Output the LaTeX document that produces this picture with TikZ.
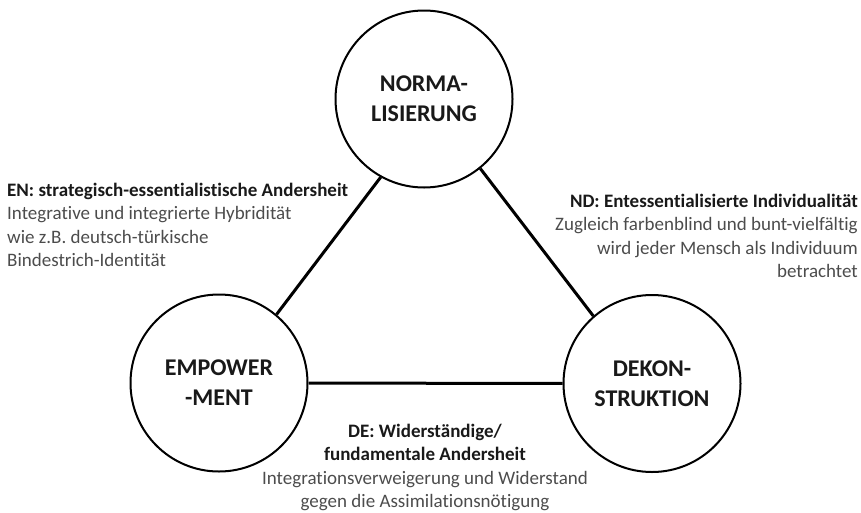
\documentclass[tikz,border=0pt]{standalone}
\usepackage{fontspec}
\setmainfont{Carlito}[Ligatures=NoCommon]
\begin{document}
\begin{tikzpicture}[x=1pt,y=-1pt,
  circ/.style={circle,draw=black,line width=2pt,minimum size=177pt,inner sep=0pt,
    align=center,font=\fontsize{24}{30}\selectfont\bfseries,text=black!90},
  conn/.style={line width=3pt,black},
  info/.style={inner sep=0pt,font=\fontsize{19}{23.3}\selectfont,text=black!70}]
\useasboundingbox (0,0) rectangle (861,512);
\node[circ] (N) at (424,99) {NORMA-\\LISIERUNG};
\node[circ] (E) at (219,383) {EMPOWER\\-MENT};
\node[circ] (D) at (652,383.5) {DEKON-\\STRUKTION};
\draw[conn] (N.241) -- (E.50);
\draw[conn] (N.309) -- (D.131);
\draw[conn] (E) -- (D);
\node[info,anchor=north west,align=left] (EN) at (7,183)
  {\textcolor{black!90}{\bfseries EN: strategisch-essentialistische Andersheit}\\
   Integrative und integrierte Hybridität\\
   wie z.B. deutsch-türkische\\
   Bindestrich-Identität};
\node[info,anchor=north east,align=right] (ND) at (858,194)
  {\textcolor{black!90}{\bfseries ND: Entessentialisierte Individualität}\\
   Zugleich farbenblind und bunt-vielfältig\\
   wird jeder Mensch als Individuum\\
   betrachtet};
\node[info,anchor=north,align=center] (DE) at (425,424)
  {\textcolor{black!90}{\bfseries DE: Widerständige/}\\
   \textcolor{black!90}{\bfseries fundamentale Andersheit}\\
   Integrationsverweigerung und Widerstand\\
   gegen die Assimilationsnötigung};
\end{tikzpicture}
\end{document}
